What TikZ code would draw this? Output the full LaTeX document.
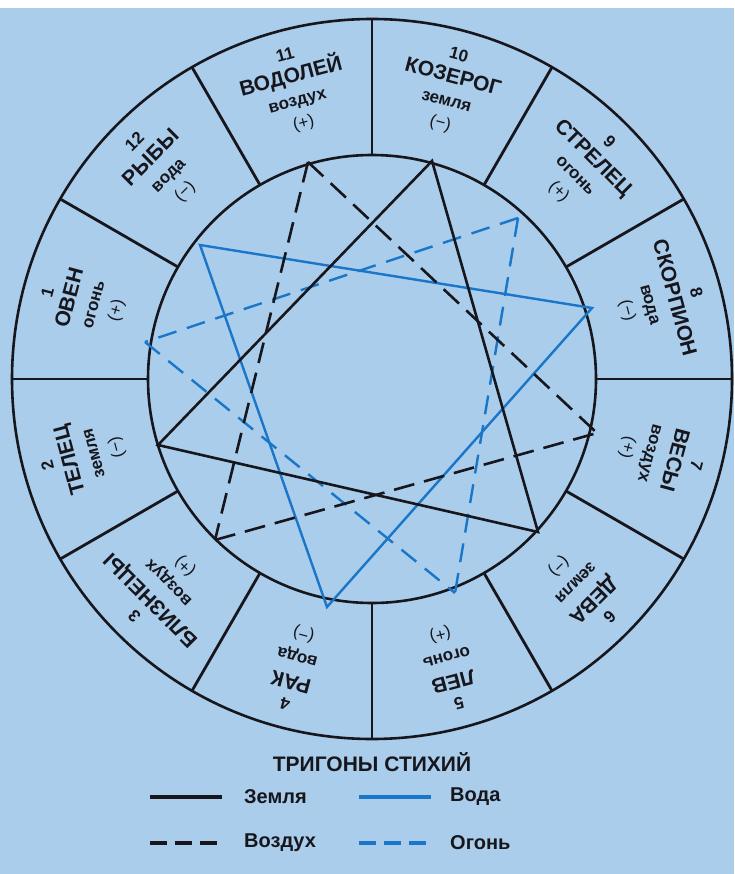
\documentclass[tikz,border=0pt]{standalone}
\usepackage{fontspec}
\setmainfont{Liberation Sans}
\definecolor{bgblue}{RGB}{170,205,235}
\definecolor{lineblue}{RGB}{25,118,200}
\definecolor{ink}{RGB}{22,22,28}
\newcommand\zodnum{\fontsize{17}{23.5}\selectfont\bfseries}
\newcommand\zodname{\fontsize{21}{23.5}\selectfont\bfseries}
\newcommand\zodel{\fontsize{17}{23.5}\selectfont\bfseries}
\newcommand\zodsign{\fontsize{17}{23.5}\selectfont\mdseries}
\begin{document}
\begin{tikzpicture}[x=1pt,y=-1pt,
  ring/.style={draw=ink,line width=2.6pt},
  divider/.style={draw=ink,line width=2.8pt},
  earth/.style={draw=ink,line width=2.6pt,line join=miter},
  air/.style={draw=ink,line width=2.6pt,dash pattern=on 21pt off 10pt},
  water/.style={draw=lineblue,line width=2.4pt,line join=miter},
  fire/.style={draw=lineblue,line width=2.4pt,dash pattern=on 19pt off 11pt},
  legearth/.style={draw=ink,line width=3.4pt},
  legair/.style={draw=ink,line width=3.4pt,dash pattern=on 17pt off 8pt},
  legwater/.style={draw=lineblue,line width=3.4pt},
  legfire/.style={draw=lineblue,line width=3.4pt,dash pattern=on 17pt off 8pt},
  zodlabel/.style={font=\fontsize{20}{23.5}\selectfont,align=center,inner sep=0pt,text=ink},
  titletext/.style={font=\fontsize{21}{21}\selectfont\bfseries,inner sep=0pt,text=ink},
  legtext/.style={font=\fontsize{20}{20}\selectfont\bfseries,inner sep=0pt,text=ink,anchor=west}
]
\useasboundingbox (0,0) rectangle (734,874);
\fill[bgblue] (0,0) rectangle (734,874);
\fill[white] (0,0) rectangle (734,8);
\coordinate (c) at (372,379);
% rings
\draw[ring] (c) circle[radius=360pt];
\draw[ring] (c) circle[radius=224pt];
% dividers
\foreach \a in {0,30,...,330}
  \draw[divider] ({372+224*cos(\a)},{379-224*sin(\a)}) -- ({372+360*cos(\a)},{379-360*sin(\a)});
% sector labels
\foreach \k/\a/\nm/\el/\sg in {
  1/165/ОВЕН/огонь/(+),
  2/195/ТЕЛЕЦ/земля/(−),
  3/225/БЛИЗНЕЦЫ/воздух/(+),
  4/255/РАК/вода/(−),
  5/285/ЛЕВ/огонь/(+),
  6/315/ДЕВА/земля/(−),
  7/345/ВЕСЫ/воздух/(+),
  8/15/СКОРПИОН/вода/(−),
  9/45/СТРЕЛЕЦ/огонь/(+),
  10/75/КОЗЕРОГ/земля/(−),
  11/105/ВОДОЛЕЙ/воздух/(+),
  12/135/РЫБЫ/вода/(−)}{
  \node[zodlabel,rotate=\a-90] (lab\k) at ({372+299*cos(\a)},{379-299*sin(\a)})
    {{\zodnum\k}\\{\zodname\nm}\\{\zodel\el}\\{\zodsign\sg}};
}
% trigon vertices
\coordinate (v1) at (145,342);
\coordinate (v2) at (158,445);
\coordinate (v3) at (215,540);
\coordinate (v4) at (327,607);
\coordinate (v5) at (455,593);
\coordinate (v6) at (538,532);
\coordinate (v7) at (597,433);
\coordinate (v8) at (592,308);
\coordinate (v9) at (518,218);
\coordinate (v10) at (432,161);
\coordinate (v11) at (308,162);
\coordinate (v12) at (200,245);
% trigons
\draw[water] (v12) -- (v8) -- (v4) -- cycle;
\draw[fire] (v9) -- (v1);
\draw[fire] (v9) -- (v5);
\draw[fire] (v1) -- (v5);
\draw[earth] (v2) -- (v10) -- (v6) -- cycle;
\draw[air] (v11) -- (v3);
\draw[air] (v11) -- (v7);
\draw[air] (v3) -- (v7);
% legend
\node[titletext] (title) at (372,762) {ТРИГОНЫ СТИХИЙ};
\coordinate (la1) at (150,797); \coordinate (la2) at (222,797);
\coordinate (lb1) at (359,797); \coordinate (lb2) at (431,797);
\coordinate (lc1) at (150,843); \coordinate (lc2) at (222,843);
\coordinate (ld1) at (359,843); \coordinate (ld2) at (431,843);
\draw[legearth] (la1) -- (la2);
\draw[legwater] (lb1) -- (lb2);
\draw[legair] (lc1) -- (lc2);
\draw[legfire] (ld1) -- (ld2);
\node[legtext] (tearth) at (244,797) {Земля};
\node[legtext] (twater) at (450,797) {Вода};
\node[legtext] (tair) at (244,843) {Воздух};
\node[legtext] (tfire) at (450,843) {Огонь};
\end{tikzpicture}
\end{document}
